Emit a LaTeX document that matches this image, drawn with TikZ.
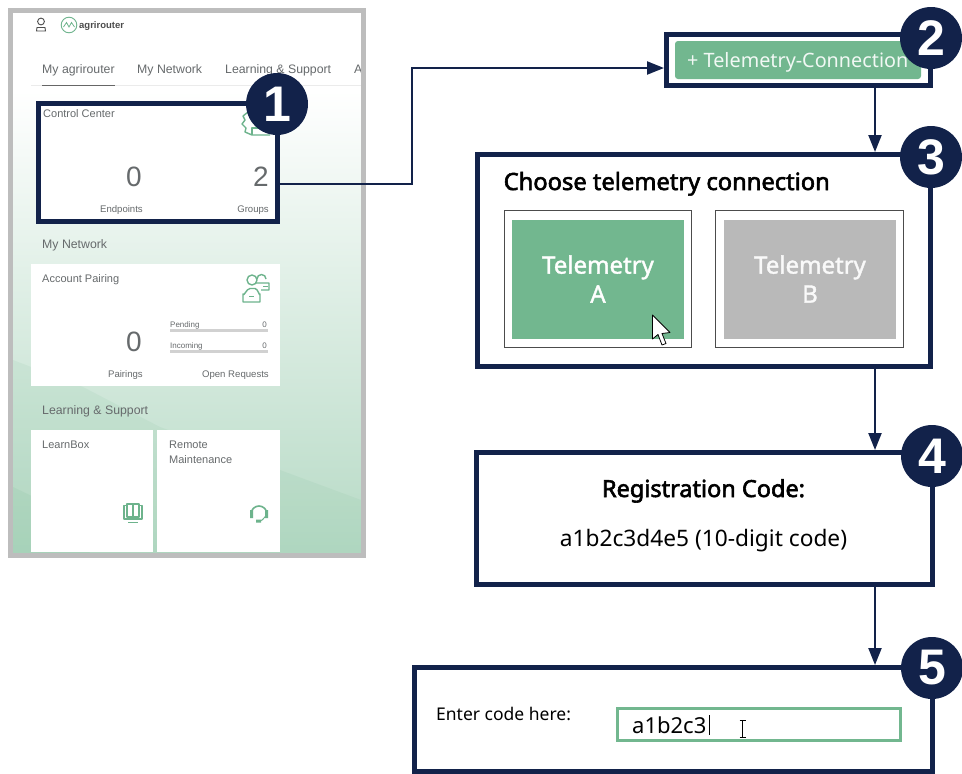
\documentclass[tikz,border=0pt]{standalone}
\usepackage{fontspec}
\usetikzlibrary{arrows.meta,calc}
\setmainfont{Noto Sans}
\newfontfamily\uifont{Liberation Sans}
\newfontfamily\medfont[FakeBold=1.5]{Noto Sans}
\newfontfamily\titlefont[FakeBold=2.5]{Noto Sans}
\definecolor{navy}{HTML}{12224A}
\definecolor{tgreen}{HTML}{72B78F}
\definecolor{tgrey}{HTML}{B9B9B9}
\definecolor{frameg}{HTML}{BDBDBD}
\definecolor{uitext}{HTML}{666A6C}
\definecolor{icong}{HTML}{6DB38C}
\tikzset{
  x=1pt,y=-1pt,
  stepbox/.style={draw=navy,line width=5pt,fill=white,inner sep=0pt},
  badge/.style={circle,fill=navy,text=white,minimum size=62pt,inner sep=0pt,font=\uifont\bfseries\fontsize{50}{50}\selectfont},
  conn/.style={draw=navy,line width=2.2pt,-{Triangle[length=17pt,width=13pt]}},
  choice/.style={draw=black!70,line width=1.1pt,fill=white,inner sep=0pt},
  tile/.style={inner sep=0pt,text=white,align=center,font=\fontsize{24}{29}\selectfont\medfont},
  card/.style={fill=white,inner sep=0pt},
  ui/.style={inner sep=0pt,text=uitext,font=\uifont\fontsize{12.3}{15}\selectfont},
  uilabel/.style={ui,font=\uifont\fontsize{11}{15}\selectfont},
  uismall/.style={ui,font=\uifont\fontsize{9.6}{15}\selectfont},
  uitiny/.style={ui,font=\uifont\fontsize{8}{10}\selectfont},
  uibig/.style={ui,font=\uifont\fontsize{28}{30}\selectfont},
  icon/.style={draw=icong,line width=1.4pt,line join=round},
}
\begin{document}
\begin{tikzpicture}
\useasboundingbox (0,0) rectangle (962,774);
% --- screenshot panel
\fill[white] (10,10) rectangle (364,90);
\shade[top color=white,bottom color=tgreen!24] (10,90) rectangle (364,300);
\shade[top color=tgreen!24,bottom color=tgreen!52] (10,300) rectangle (364,556);
\fill[tgreen,opacity=.10] (13,360) -- (83,387) -- (160,427) -- (280,470) -- (361,500) -- (361,553) -- (13,553) -- cycle;
\fill[tgreen,opacity=.12] (13,487) -- (40,500) -- (90,553) -- (13,553) -- cycle;
\draw[frameg,line width=5pt] (10.5,10.5) rectangle (363.5,555.5);
% top bar
\draw[black!70,line width=.9pt] (41,21.5) circle (3.4);
\draw[black!70,line width=.9pt] (36.5,31) -- (45.5,31) -- (45,27.5) -- (37,27.5) -- cycle;
\draw[icong,line width=.9pt] (69,25) circle (7.8);
\draw[icong,line width=.8pt] (63.5,27) -- (66.5,22.5) -- (69,27) -- (71.5,22.5) -- (74.5,27);
\node[inner sep=0pt,anchor=base west,text=black!70,font=\uifont\bfseries\fontsize{9.5}{10}\selectfont] (logo) at (79,28) {agrirouter};
% tabs
\node[ui,anchor=base west] (tab1) at (42,73) {My agrirouter};
\node[ui,anchor=base west] (tab2) at (137,73) {My Network};
\node[ui,anchor=base west] (tab3) at (225,73) {Learning \& Support};
\begin{scope}
\clip (340,60) rectangle (360,80);
\node[ui,anchor=base west] (tab4) at (354,73) {A};
\end{scope}
\draw[black!8,line width=1pt] (31,85.5) -- (361,85.5);
\draw[black!60,line width=1.2pt] (42,85.5) -- (115,85.5);
% control center
\node[stepbox,minimum width=239pt,minimum height=118pt] (s1) at (158,162.5) {};
\begin{scope}
\draw[icon] (248,112) -- (243,116) -- (245,120) -- (242,124) -- (246,128) -- (245,132) -- (252,135) -- (270,135);
\draw[icon] (252,135) -- (252,128) -- (260,128);
\end{scope}
\node[uilabel,anchor=base west] (cc) at (43,117) {Control Center};
\node[uibig,anchor=base] (n0a) at (134,186) {0};
\node[uibig,anchor=base] (n2) at (261,186) {2};
\node[uismall,anchor=base east] (ep) at (143,212) {Endpoints};
\node[uismall,anchor=base east] (gr) at (269,212) {Groups};
% my network
\node[ui,anchor=base west] (mn) at (42,248) {My Network};
\node[card,minimum width=249pt,minimum height=122pt] (pair) at (155.5,325) {};
\node[uilabel,anchor=base west] (ap) at (42,282) {Account Pairing};
\draw[icon] (252,280) circle (5);
\draw[icon] (243,302) -- (243,294) to[out=-80,in=180] (250,288.5) -- (255,288.5) to[out=0,in=-100] (260,294) -- (260,302) -- cycle;
\draw[icon] (249,296.5) -- (254,296.5);
\draw[icon] (257,279) arc (180:360:4.5) (255,283) -- (269,283) -- (269,290) -- (261,290);
\draw[icon,line width=1pt] (263,286.5) -- (268,286.5);
\node[uibig,anchor=base] (n0b) at (134,351) {0};
\node[uitiny,anchor=base west] (pe) at (170,327) {Pending};
\node[uitiny,anchor=base east] (pe0) at (267,327) {0};
\fill[black!18] (170,329) rectangle (268,331.5);
\node[uitiny,anchor=base west] (in) at (170,348) {Incoming};
\node[uitiny,anchor=base east] (in0) at (267,348) {0};
\fill[black!18] (170,350) rectangle (268,352.5);
\node[uismall,anchor=base east] (pa) at (143,377) {Pairings};
\node[uismall,anchor=base east] (or) at (269,377) {Open Requests};
% learning
\node[ui,anchor=base west] (ls) at (42,414) {Learning \& Support};
\node[card,minimum width=122pt,minimum height=122pt] (lb) at (92,491) {};
\node[card,minimum width=123pt,minimum height=122pt] (rm) at (218.5,491) {};
\node[uilabel,anchor=base west] (lbt) at (42,448) {LearnBox};
\node[uilabel,anchor=base west,align=left] (rmt) at (169,448) {Remote};
\node[uilabel,anchor=base west] (rmt2) at (169,463) {Maintenance};
\draw[icon,line width=1.2pt] (127,505.5) -- (124,505.5) -- (124,519) -- (142,519) -- (142,505.5) -- (139,505.5);
\draw[icon,line width=1.2pt] (133,517) -- (127,517) -- (127,504) -- (139,504) -- (139,517) -- (133,517) -- (133,504);
\draw[icon,line width=1.2pt] (128,522.5) -- (138,522.5);
\draw[icon,line width=1.6pt] (251,514) arc (180:360:8);
\fill[icong] (250,510) rectangle (253,518) (265,510) rectangle (268,518) (256,519.5) rectangle (261,522.5);
\draw[icon,line width=1pt] (266,517) to[out=90,in=0] (260,521);
% --- step boxes
\node[stepbox,minimum width=264pt,minimum height=51pt] (s2) at (798.5,60) {};
\node[fill=tgreen,rounded corners=3pt,minimum width=246pt,minimum height=38pt,inner sep=0pt] (btn) at (798,60) {};
\node[inner sep=0pt,anchor=base west,text=white!90!tgreen,font=\fontsize{19.8}{24}\selectfont] (btnt) at (687,67.5) {+ Telemetry-Connection};
\node[stepbox,minimum width=453pt,minimum height=212pt] (s3) at (704,260.5) {};
\node[inner sep=0pt,anchor=base west,text=black,font=\fontsize{23.7}{25}\selectfont\titlefont] (t3) at (503.5,190) {Choose telemetry connection};
\node[choice,minimum width=187.4pt,minimum height=137.4pt] (ca) at (598,279) {};
\node[choice,minimum width=187.4pt,minimum height=137.4pt] (cb) at (809.5,279) {};
\node[fill=tgreen,minimum width=172pt,minimum height=119pt,inner sep=0pt] (ta) at (598,279.5) {};
\node[fill=tgrey,minimum width=172pt,minimum height=119pt,inner sep=0pt] (tb) at (810,279.5) {};
\node[tile] (tat) at (598,279) {Telemetry\\A};
\node[tile,text=white!92!tgrey] (tbt) at (810,279) {Telemetry\\B};
\draw[black,fill=white,line width=.8pt,line join=round] (652.5,315) -- (652.5,339) -- (658,334.5) -- (662,345) -- (666,343.5) -- (662,333.5) -- (670,332.5) -- cycle;
\node[stepbox,minimum width=456pt,minimum height=132pt] (s4) at (704.4,518.5) {};
\node[inner sep=0pt,anchor=base,text=black,font=\fontsize{23.5}{25}\selectfont\titlefont] (t4a) at (703.5,497) {Registration Code:};
\node[inner sep=0pt,anchor=base,text=black,font=\fontsize{22.7}{25}\selectfont] (t4b) at (703.5,546) {a1b2c3d4e5 (10-digit code)};
\node[stepbox,minimum width=518pt,minimum height=104pt] (s5) at (673.5,719.5) {};
\node[inner sep=0pt,anchor=base west,text=black,font=\fontsize{17.5}{20}\selectfont] (t5) at (436,720) {Enter code here:};
\node[draw=tgreen,line width=3pt,fill=white,minimum width=283pt,minimum height=32pt,inner sep=0pt] (inp) at (759,724.5) {};
\node[inner sep=0pt,anchor=base west,text=black,font=\fontsize{22}{25}\selectfont] (t5b) at (632,733) {a1b2c3};
\draw[black,line width=.7pt] (709.5,715) -- (709.5,735);
\draw[black,line width=.8pt] (742.5,721) -- (742.5,737) (739.5,720.5) -- (745.5,720.5) (739.5,737.5) -- (745.5,737.5);
% --- connectors
\coordinate (elbow) at (412,0);
\coordinate (ax) at (875,0);
\coordinate (s1out) at (s1.east |- 0,184);
\coordinate (s2in) at (s2.west |- 0,68);
\draw[conn] (s1out) -- (elbow |- s1out) -- (elbow |- s2in) -- (s2in);
\draw[conn] (s2.south -| ax) -- (s3.north -| ax);
\draw[conn] (s3.south -| ax) -- (s4.north -| ax);
\draw[conn] (s4.south -| ax) -- (s5.north -| ax);
% --- badges
\node[badge] (b1) at (277,104) {1};
\node[badge] (b2) at (931,38) {2};
\node[badge] (b3) at (931,157) {3};
\node[badge] (b4) at (932,456) {4};
\node[badge] (b5) at (932,668) {5};
\end{tikzpicture}
\end{document}
